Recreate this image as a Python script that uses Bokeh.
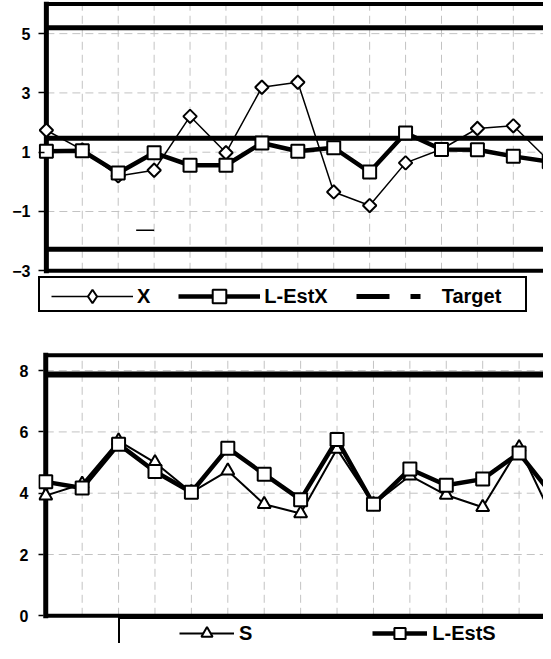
import math
import numpy as np
from bokeh.plotting import figure
from bokeh.models import Range1d, FixedTicker, Legend, LegendItem
from bokeh.layouts import column
from bokeh.embed import file_html
from bokeh.resources import INLINE

# ---------------- data ----------------
# upper chart: individual values and their estimate
x_values = [1.74, 1.08, 0.20, 0.39, 2.21, 0.98, 3.19, 3.36, -0.34, -0.80, 0.64, 1.10, 1.80, 1.89, 0.70]
l_est_x = [1.03, 1.05, 0.30, 0.98, 0.56, 0.56, 1.31, 1.03, 1.15, 0.33, 1.65, 1.09, 1.08, 0.86, 0.68]
x_ucl = 5.20
x_target = 1.47
x_lcl = -2.27
x_ticks = [-3, -1, 1, 3, 5]
x_axis_min = -3
x_axis_max = 6
stray_x = [2.5, 3.0]
stray_y = [-1.63, -1.63]

# lower chart: spread values and their estimate
s_values = [3.92, 4.30, 5.71, 5.00, 4.03, 4.73, 3.64, 3.34, 5.44, 3.64, 4.57, 3.94, 3.54, 5.49, 3.00]
l_est_s = [4.37, 4.17, 5.60, 4.71, 4.03, 5.47, 4.62, 3.79, 5.75, 3.64, 4.79, 4.26, 4.46, 5.31, 3.80]
s_ucl = 7.87
s_ticks = [0, 2, 4, 6, 8]
s_axis_min = 0
s_axis_max = 8.5

FONT = "Liberation Sans"
GRID = "#c3c3c3"
NAN = np.array([np.nan])


def style(p, ticks, tick_in, standoff):
    p.outline_line_color = None
    p.background_fill_color = "white"
    ax = p.yaxis[0]
    ax.ticker = FixedTicker(ticks=ticks)
    ax.axis_line_color = None
    ax.major_tick_in = tick_in
    ax.major_tick_out = 0
    ax.major_tick_line_width = 1.5
    ax.major_tick_line_color = "black"
    ax.minor_tick_line_color = None
    ax.major_label_standoff = standoff
    ax.major_label_text_font = FONT
    ax.major_label_text_font_style = "bold"
    ax.major_label_text_font_size = "16px"
    ax.major_label_text_color = "black"
    p.xgrid.visible = False
    p.ygrid.visible = False


def grid(p, n, ticks, ymin, ymax):
    cats = list(range(1, n + 1))
    p.segment(x0=cats, y0=[ymin] * n, x1=cats, y1=[ymax] * n,
              line_color=GRID, line_dash="8 5", line_width=1)
    k = len(ticks)
    p.segment(x0=[0] * k, y0=ticks, x1=[n + 1] * k, y1=ticks,
              line_color=GRID, line_dash="8 5", line_width=1)


def hline(p, yv, n, w):
    p.line([0, n], [yv, yv], line_width=w, line_color="black")


def box_legend(renderer, loc, w, h):
    return Legend(items=[LegendItem(label=" ", renderers=[renderer])],
                  location=loc, orientation="horizontal",
                  glyph_width=1, glyph_height=h, label_width=w, label_height=h,
                  label_standoff=0, padding=0, margin=0, spacing=0,
                  border_line_color="black", border_line_width=2.5, border_line_alpha=1,
                  background_fill_color="white", background_fill_alpha=1,
                  label_text_font_size="1px")


# ---------------- upper chart ----------------
n1 = len(x_values)
idx1 = list(range(n1))
p1 = figure(width=543, height=340, output_backend="svg", toolbar_location=None,
            x_axis_location=None,
            x_range=Range1d(-0.219, 13.84), y_range=Range1d(-5.352, 6.084),
            min_border_left=38, min_border_right=0, min_border_top=1, min_border_bottom=0)
style(p1, x_ticks, 6, 8)
grid(p1, n1, x_ticks, x_axis_min, x_axis_max)

p1.line([0, 0], [x_axis_min, x_axis_max], line_width=5, line_color="black", line_cap="square")
hline(p1, x_axis_max, n1 + 1, 4)
hline(p1, x_axis_min, n1 + 1, 4)
hline(p1, x_ucl, n1 + 1, 5)
hline(p1, x_target, n1 + 1, 5)
hline(p1, x_lcl, n1 + 1, 5)
p1.line(stray_x, stray_y, line_width=1.5, line_color="black")

r_x_line = p1.line(idx1, x_values, line_width=1.5, line_color="black")
p1.scatter(idx1, x_values, marker="square", angle=math.pi / 4, size=9.5,
           fill_color="white", line_color="black", line_width=2)
r_lx_line = p1.line(idx1, l_est_x, line_width=4.5, line_color="black")
r_lx_mark = p1.scatter(idx1, l_est_x, marker="square", size=13,
                       fill_color="white", line_color="black", line_width=2)

leg_diamond = p1.scatter(NAN, NAN, marker="diamond", size=13,
                         fill_color="white", line_color="black", line_width=2)
leg_target = p1.line(NAN, NAN, line_width=5, line_color="black", line_dash="33 21 10 30")
blank1 = p1.line(NAN, NAN, line_alpha=0)

p1.add_layout(box_legend(blank1, (0, 28.5), 484, 32))
leg1 = Legend(items=[LegendItem(label="X", renderers=[r_x_line, leg_diamond]),
                     LegendItem(label="L-EstX", renderers=[r_lx_line, r_lx_mark]),
                     LegendItem(label="Target", renderers=[leg_target])],
              location=(13, 27), orientation="horizontal",
              glyph_width=82, glyph_height=34, label_width=0, label_height=0,
              label_standoff=4, spacing=28, padding=0, margin=0,
              border_line_color=None, background_fill_alpha=0,
              label_text_font=FONT, label_text_font_style="bold",
              label_text_font_size="20px", label_text_color="black")
p1.add_layout(leg1)

# ---------------- lower chart ----------------
n2 = len(s_values)
idx2 = list(range(n2))
p2 = figure(width=543, height=303, output_backend="svg", toolbar_location=None,
            x_axis_location=None,
            x_range=Range1d(-0.199, 13.67), y_range=Range1d(-0.904, 8.624),
            min_border_left=34, min_border_right=0, min_border_top=11, min_border_bottom=0)
style(p2, s_ticks, 5, 10)
grid(p2, n2, s_ticks, s_axis_min, s_axis_max)

p2.line([0, 0], [s_axis_min, s_axis_max], line_width=5, line_color="black", line_cap="square")
hline(p2, s_axis_max, n2 + 1, 4)
hline(p2, s_axis_min, n2 + 1, 4)
hline(p2, s_ucl, n2 + 1, 6)

r_s_line = p2.line(idx2, s_values, line_width=2, line_color="black")
r_s_mark = p2.scatter(idx2, s_values, marker="triangle", size=13,
                      fill_color="white", line_color="black", line_width=2)
r_ls_line = p2.line(idx2, l_est_s, line_width=4.5, line_color="black")
r_ls_mark = p2.scatter(idx2, l_est_s, marker="square", size=13,
                       fill_color="white", line_color="black", line_width=2)
blank2 = p2.line(NAN, NAN, line_alpha=0)

p2.add_layout(box_legend(blank2, (79.7, -18.3), 520, 40))
leg2 = Legend(items=[LegendItem(label="S", renderers=[r_s_line, r_s_mark]),
                     LegendItem(label="L-EstS", renderers=[r_ls_line, r_ls_mark])],
              location=(141, -4), orientation="horizontal",
              glyph_width=55, glyph_height=28, label_width=0, label_height=0,
              label_standoff=5, spacing=120, padding=0, margin=0,
              border_line_color=None, background_fill_alpha=0,
              label_text_font=FONT, label_text_font_style="bold",
              label_text_font_size="20px", label_text_color="black")
p2.add_layout(leg2)

layout = column(p1, p2)
open("out.html", "w").write(file_html(layout, INLINE))
